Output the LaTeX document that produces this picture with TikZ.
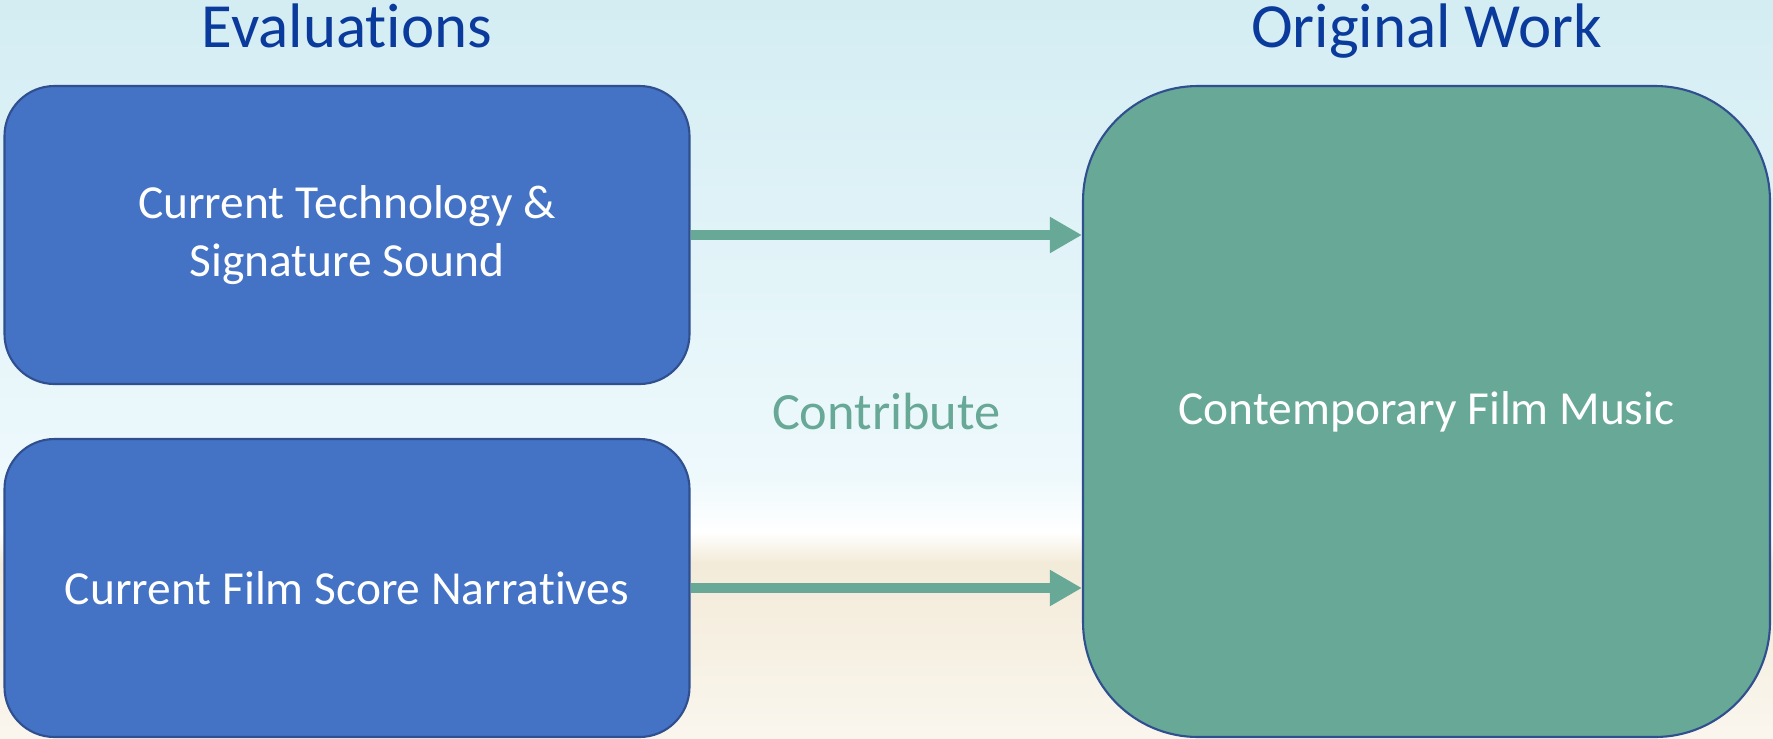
\documentclass[tikz,border=0pt]{standalone}
\usepackage{fontspec}
\setmainfont{Carlito}[RawFeature={-liga;-clig;-calt;-dlig}]
\usetikzlibrary{arrows.meta, calc, positioning}

\definecolor{boxblue}{HTML}{4472C4}
\definecolor{boxteal}{HTML}{67A897}
\definecolor{edgeblue}{HTML}{2F4F8F}
\definecolor{titleblue}{HTML}{0A3A9C}
\definecolor{skytop}{HTML}{D3EDF3}
\definecolor{skylow}{HTML}{EEF9FC}
\definecolor{sandtop}{HTML}{F3EBD9}
\definecolor{sandlow}{HTML}{FAF6EE}

\begin{document}
\begin{tikzpicture}[
    evalbox/.style={draw=edgeblue, line width=0.6pt, fill=boxblue, rounded corners=0.5cm,
        minimum width=6.85cm, minimum height=2.98cm, inner sep=0pt, text=white,
        align=center, font=\fontsize{13.5}{16.4}\selectfont},
    workbox/.style={draw=edgeblue, line width=0.6pt, fill=boxteal, rounded corners=1.15cm,
        minimum width=6.87cm, minimum height=6.51cm, inner sep=0pt, text=white,
        font=\fontsize{13.5}{16.2}\selectfont},
    headline/.style={anchor=base, text=titleblue, inner sep=0pt,
        font=\fontsize{17.9}{21}\selectfont},
    contrib/.style={draw=boxteal, line width=2.8pt,
        -{Triangle[length=0.32cm, width=0.34cm]}},
    contriblabel/.style={text=boxteal, inner sep=0pt,
        font=\fontsize{14.9}{18}\selectfont}
]
    % Page size
    \useasboundingbox (0,0) rectangle (17.73,7.38);
    % Background: sky, foam and sand
    \fill[top color=skytop, bottom color=skylow] (0,2.6) rectangle (17.73,7.38);
    \fill[top color=skylow, bottom color=white] (0,2.05) rectangle (17.73,2.61);
    \fill[top color=white, bottom color=sandtop] (0,1.75) rectangle (17.73,2.06);
    \fill[top color=sandtop, bottom color=sandlow] (0,0) rectangle (17.73,1.76);

    % Boxes
    \node[evalbox] (tech) at (3.47,5.03) {Current Technology \&\\Signature Sound};
    \node[evalbox] (narr) at (3.47,1.50) {Current Film Score Narratives};
    \node[workbox] (film) at (14.265,3.265) {Contemporary Film Music};

    % Headings
    \node[headline] (evalhead) at (3.47,6.905) {Evaluations};
    \node[headline] (workhead) at (14.265,6.905) {Original Work};

    % Arrows
    \foreach \src in {tech, narr}
    {
        \draw[contrib] (\src.east) -- (\src.east -| film.west);
    }
    \node[contriblabel] (contribute) at ($(tech.east |- film.center)!0.5!(film.west)$) {Contribute};
\end{tikzpicture}
\end{document}
